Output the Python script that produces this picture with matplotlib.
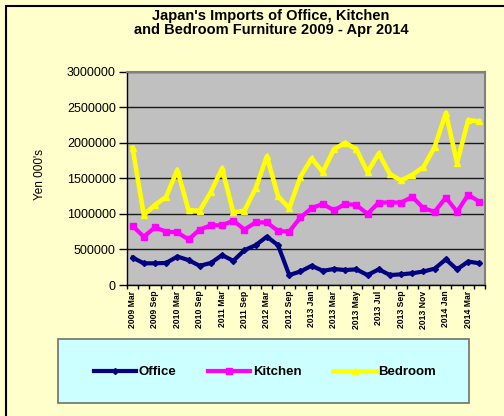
import numpy as np
import matplotlib.pyplot as plt
from matplotlib.patches import Rectangle
from matplotlib.ticker import FuncFormatter

# categories: quarterly to end of 2012, then monthly
categories = ['2009 Mar', '2009 Jun', '2009 Sep', '2009 Dec',
              '2010 Mar', '2010 Jun', '2010 Sep', '2010 Dec',
              '2011 Mar', '2011 Jun', '2011 Sep', '2011 Dec',
              '2012 Mar', '2012 Jun', '2012 Sep', '2012 Dec',
              '2013 Jan', '2013 Feb', '2013 Mar', '2013 Apr', '2013 May', '2013 Jun',
              '2013 Jul', '2013 Aug', '2013 Sep', '2013 Oct', '2013 Nov', '2013 Dec',
              '2014 Jan', '2014 Feb', '2014 Mar', '2014 Apr']

office = [385000, 305000, 305000, 310000, 400000, 350000, 270000, 310000,
          420000, 340000, 490000, 560000, 680000, 560000, 140000, 190000,
          270000, 200000, 225000, 210000, 220000, 140000, 220000, 140000,
          150000, 165000, 190000, 230000, 360000, 220000, 330000, 305000]
kitchen = [830000, 680000, 810000, 750000, 740000, 640000, 780000, 840000,
           840000, 905000, 780000, 880000, 880000, 760000, 750000, 950000,
           1080000, 1140000, 1050000, 1140000, 1125000, 1000000, 1160000, 1160000,
           1160000, 1240000, 1080000, 1030000, 1230000, 1030000, 1270000, 1170000]
bedroom = [1930000, 985000, 1125000, 1240000, 1620000, 1050000, 1045000, 1310000,
           1640000, 1020000, 1045000, 1360000, 1810000, 1250000, 1080000, 1520000,
           1780000, 1590000, 1910000, 2000000, 1910000, 1590000, 1850000, 1560000,
           1470000, 1550000, 1660000, 1940000, 2420000, 1720000, 2320000, 2300000]

plt.rcParams['font.family'] = ['Liberation Sans', 'DejaVu Sans']

W, H = 504, 416
fig = plt.figure(figsize=(W / 100, H / 100), dpi=100)
fig.patch.set_facecolor('#FFFFCC')

# outer chart border (right/bottom run off the picture)
fig.patches.append(Rectangle((6 / W, -0.1), 1.2, 1 - 6 / H + 0.1, transform=fig.transFigure,
                             fill=False, edgecolor='black', linewidth=1.5))

ax = fig.add_axes([127 / W, 1 - 285 / H, 358 / W, 213.3 / H])
ax.set_facecolor('#C0C0C0')

x = np.arange(len(categories))
ax.plot(x, office, color='#000080', lw=3, marker='D', ms=3, label='Office')
ax.plot(x, kitchen, color='#FF00FF', lw=3, marker='s', ms=4, label='Kitchen')
ax.plot(x, bedroom, color='#FFFF00', lw=3.3, marker='^', ms=4, label='Bedroom')

ax.set_xlim(-0.5, len(categories) - 0.5)
ax.set_ylim(0, 3000000)
ax.set_yticks(np.arange(0, 3000001, 500000))
ax.yaxis.set_major_formatter(FuncFormatter(lambda v, p: f'{v:.0f}'))
ax.yaxis.grid(True, color='#181818', lw=1)
ax.set_axisbelow(True)
ax.tick_params(axis='y', length=6, width=1, pad=2, labelsize=9)

ax.set_xticks(x[::2])
ax.set_xticklabels(categories[::2], rotation=90, fontsize=6.2, fontweight='bold')
ax.set_xticks(np.arange(-0.5, len(categories)), minor=True)
ax.tick_params(axis='x', which='major', length=0, pad=4)
ax.tick_params(axis='x', which='minor', length=3, width=1)

for side in ['top', 'right']:
    ax.spines[side].set_color('#808080')
    ax.spines[side].set_linewidth(1.5)
for side in ['left', 'bottom']:
    ax.spines[side].set_color('black')
    ax.spines[side].set_linewidth(1)

ax.set_ylabel("Yen 000's", fontsize=8.5)
ax.yaxis.set_label_coords(-(127 - 46) / 358, 0.52)

fig.text(271 / W, 1 - 23 / H, "Japan's Imports of Office, Kitchen\nand Bedroom Furniture 2009 - Apr 2014",
         ha='center', va='center', fontsize=10.5, fontweight='bold', linespacing=1.0)

# legend box
fig.patches.append(Rectangle((58 / W, 1 - 403 / H), 411 / W, 64 / H, transform=fig.transFigure,
                             facecolor='#CCFFFF', edgecolor='#707070', linewidth=1.2))
handles, labels = ax.get_legend_handles_labels()
leg = fig.legend(handles, labels, loc='center', bbox_to_anchor=(265 / W, 1 - 372 / H), ncol=3,
                 frameon=False, prop={'weight': 'bold', 'size': 9.5}, handlelength=3.2,
                 handletextpad=0.2, columnspacing=2.4)

fig.savefig('out.png', dpi=100, facecolor=fig.get_facecolor())
